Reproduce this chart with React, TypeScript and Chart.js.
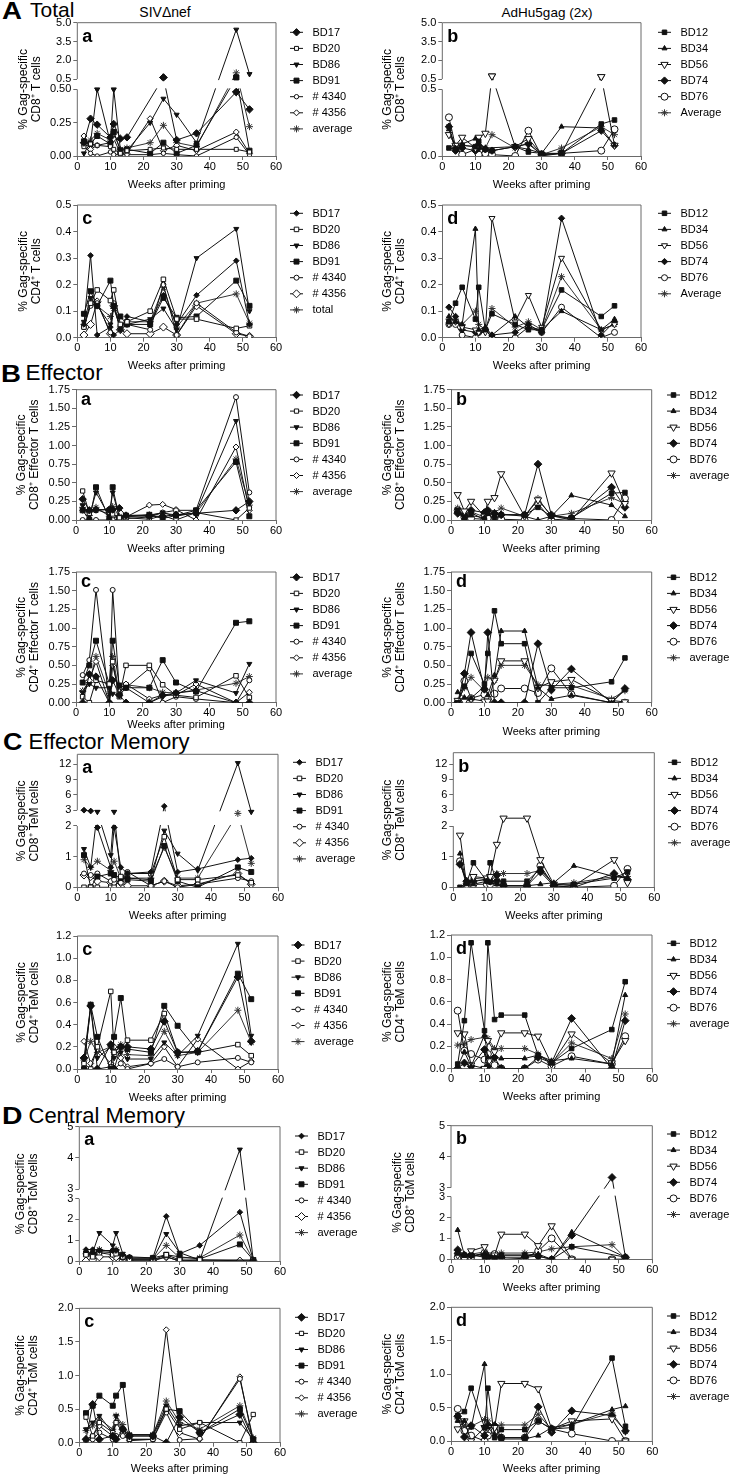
import React, { useEffect, useRef } from 'react';
import { Chart, registerables, LinearScale, PointElement } from 'chart.js';

Chart.register(...registerables);

const FONT = "Arial, 'Liberation Sans', Helvetica, sans-serif";
const INK = '#111';
const AXIS = '#6a6a6a';

// ---------------- data ----------------
const WEEKS = [2, 4, 6, 10, 11, 13, 15, 22, 26, 30, 36, 48, 52];

const SIV_ANIMALS = ['BD17', 'BD20', 'BD86', 'BD91', '# 4340', '# 4356', 'average'];
const SIV_ANIMALS_TOTAL = ['BD17', 'BD20', 'BD86', 'BD91', '# 4340', '# 4356', 'total'];
const AD_ANIMALS = ['BD12', 'BD34', 'BD56', 'BD74', 'BD76', 'average'];
const AD_ANIMALS_TOTAL = ['BD12', 'BD34', 'BD56', 'BD74', 'BD76', 'Average'];

// A a : SIVdnef, total CD8
const TOTAL_CD8_SIV = [
  [0.10, 0.28, 0.235, 0.14, 0.24, 0.13, 0.14, null, 0.63, 0.12, 0.17, 0.48, 0.35],
  [0.07, 0.09, 0.08, 0.07, 0.05, 0.02, 0.04, 0.05, 0.06, 0.05, 0.05, 0.05, 0.03],
  [0.02, 0.10, 0.50, 0.10, 0.50, 0.05, 0.04, 0.25, 0.43, 0.31, 0.10, 4.45, 0.90],
  [0.11, 0.09, 0.15, 0.09, 0.18, 0.04, 0.05, 0.02, 0.10, 0.02, 0.08, 0.63, 0.04],
  [0.08, 0.02, 0.00, 0.03, 0.01, 0.01, 0.01, 0.01, 0.02, 0.01, 0.00, 0.14, 0.01],
  [0.15, 0.05, 0.08, 0.10, 0.13, 0.02, 0.02, 0.28, 0.04, 0.08, 0.04, 0.18, 0.02],
  [0.10, 0.12, 0.17, 0.12, 0.18, 0.05, 0.06, 0.10, 0.23, 0.10, 0.07, 1.00, 0.22],
];
// A b : AdHu5gag, total CD8
const TOTAL_CD8_AD = [
  [0.06, 0.05, 0.08, 0.07, 0.11, 0.05, 0.04, 0.07, 0.03, 0.02, 0.02, 0.24, 0.27],
  [0.20, 0.06, 0.09, 0.13, 0.09, 0.06, null, 0.07, 0.05, 0.02, 0.22, 0.21, 0.08],
  [0.16, 0.08, 0.14, 0.06, 0.14, 0.17, 0.74, 0.07, 0.13, 0.01, 0.02, 0.69, 0.08],
  [0.22, 0.04, 0.06, 0.04, 0.06, 0.05, 0.04, 0.07, 0.09, 0.01, 0.02, 0.19, 0.08],
  [0.29, 0.07, 0.01, 0.05, 0.01, 0.02, 0.01, 0.00, 0.19, 0.00, 0.02, 0.04, 0.20],
  [0.22, 0.06, 0.08, 0.07, 0.08, 0.06, 0.16, 0.06, 0.10, 0.01, 0.06, 0.22, 0.16],
];
// A c : SIVdnef, total CD4
const TOTAL_CD4_SIV = [
  [0.05, 0.31, 0.01, 0.04, 0.01, 0.03, 0.08, 0.06, 0.16, 0.05, 0.16, 0.29, 0.05],
  [0.04, 0.13, 0.18, 0.14, 0.18, 0.05, 0.06, 0.10, 0.22, 0.07, 0.07, 0.035, 0.045],
  [0.06, 0.15, 0.12, 0.05, 0.12, 0.04, 0.05, 0.07, 0.11, 0.03, 0.30, 0.41, 0.10],
  [0.09, 0.175, 0.12, 0.215, 0.12, 0.08, 0.05, 0.05, 0.15, 0.075, 0.08, 0.215, 0.12],
  [0.04, 0.12, 0.13, 0.02, 0.13, 0.03, 0.05, 0.03, 0.20, 0.01, 0.13, 0.02, 0.005],
  [0.01, 0.05, 0.135, 0.015, 0.12, 0.03, 0.015, 0.015, 0.04, 0.01, 0.12, 0.015, 0.005],
  [0.05, 0.13, 0.12, 0.08, 0.11, 0.04, 0.06, 0.06, 0.19, 0.04, 0.13, 0.165, 0.055],
];
// A d : AdHu5gag, total CD4
const TOTAL_CD4_AD = [
  [0.06, 0.13, 0.19, 0.07, 0.19, 0.03, 0.09, 0.05, 0.03, 0.03, 0.18, 0.08, 0.12],
  [0.08, 0.06, 0.05, 0.41, 0.03, 0.04, 0.01, 0.08, 0.04, 0.03, 0.10, 0.03, 0.07],
  [0.05, 0.06, 0.04, 0.03, 0.02, 0.02, 0.45, 0.06, 0.16, 0.04, 0.30, 0.03, 0.05],
  [0.115, 0.08, 0.03, 0.02, 0.02, 0.03, 0.01, 0.02, 0.05, 0.02, 0.45, 0.01, 0.06],
  [0.05, 0.05, 0.01, 0.00, 0.02, 0.03, 0.00, 0.00, 0.04, 0.02, 0.115, 0.00, 0.02],
  [0.07, 0.07, 0.05, 0.10, 0.05, 0.03, 0.11, 0.04, 0.06, 0.03, 0.23, 0.03, 0.05],
];
// B a : SIVdnef, effector CD8
const EFF_CD8_SIV = [
  [0.28, 0.13, 0.14, 0.14, 0.14, 0.16, 0.06, 0.05, 0.05, 0.07, 0.09, 0.13, 0.25],
  [0.39, 0.09, 0.13, 0.14, 0.08, 0.03, 0.03, 0.01, 0.06, 0.00, 0.10, 0.00, 0.16],
  [0.20, 0.05, 0.37, 0.05, 0.37, 0.04, 0.05, 0.06, 0.10, 0.05, 0.10, 1.33, 0.22],
  [0.13, 0.00, 0.44, 0.01, 0.44, 0.03, 0.06, 0.07, 0.02, 0.06, 0.13, 0.78, 0.05],
  [0.00, 0.00, 0.00, 0.00, 0.00, 0.01, 0.02, 0.04, 0.10, 0.13, 0.13, 1.65, 0.37],
  [0.13, 0.12, 0.14, 0.08, 0.05, 0.02, 0.04, 0.20, 0.21, 0.14, 0.00, 0.98, 0.13],
  [0.17, 0.06, 0.17, 0.05, 0.18, 0.05, 0.04, 0.07, 0.09, 0.07, 0.09, 0.82, 0.20],
];
// B b : AdHu5gag, effector CD8
const EFF_CD8_AD = [
  [0.13, 0.00, 0.10, 0.00, 0.09, 0.02, 0.07, 0.07, 0.17, 0.05, 0.03, 0.36, 0.37],
  [0.10, 0.02, 0.06, 0.03, 0.09, 0.07, 0.08, 0.05, 0.00, 0.05, 0.33, 0.20, 0.05],
  [0.34, 0.12, 0.25, 0.05, 0.25, 0.30, 0.62, 0.05, 0.27, 0.06, 0.00, 0.63, 0.22],
  [0.09, 0.07, 0.13, 0.10, 0.13, 0.09, 0.07, 0.07, 0.75, 0.07, 0.02, 0.44, 0.17],
  [0.13, 0.04, 0.02, 0.01, 0.02, 0.01, 0.01, 0.00, 0.22, 0.00, 0.02, 0.00, 0.29],
  [0.16, 0.06, 0.11, 0.04, 0.12, 0.10, 0.16, 0.05, 0.29, 0.05, 0.09, 0.30, 0.22],
];
// B c : SIVdnef, effector CD4
const EFF_CD4_SIV = [
  [0.00, 0.38, 0.35, 0.00, 0.30, 0.10, 0.00, 0.00, 0.10, 0.13, 0.16, 0.00, 0.00],
  [0.08, 0.00, 0.30, 0.25, 0.55, 0.08, 0.50, 0.50, 0.24, 0.10, 0.07, 0.36, 0.07],
  [0.14, 0.25, 0.20, 0.20, 0.12, 0.10, 0.20, 0.00, 0.08, 0.13, 0.30, 0.13, 0.52],
  [0.27, 0.50, 0.83, 0.25, 0.83, 0.23, 0.20, 0.20, 0.57, 0.27, 0.15, 1.07, 1.09],
  [0.37, 0.57, 1.51, 0.00, 1.51, 0.15, 0.20, 0.46, 0.00, 0.08, 0.05, 0.00, 0.30],
  [0.15, 0.30, 0.55, 0.00, 0.50, 0.12, 0.25, 0.05, 0.10, 0.10, 0.25, 0.00, 0.14],
  [0.16, 0.27, 0.62, 0.12, 0.62, 0.13, 0.24, 0.20, 0.14, 0.13, 0.17, 0.26, 0.35],
];
// B d : AdHu5gag, effector CD4
const EFF_CD4_AD = [
  [0.00, 0.22, 0.66, 0.25, 0.66, 1.23, 0.79, 0.79, 0.00, 0.20, 0.20, 0.28, 0.60],
  [0.14, 0.07, 0.06, 0.22, 0.10, 0.37, 0.96, 0.96, 0.20, 0.05, 0.10, 0.00, 0.17],
  [0.03, 0.02, 0.05, 0.02, 0.02, 0.30, 0.56, 0.56, 0.20, 0.28, 0.31, 0.03, 0.01],
  [0.00, 0.39, 0.94, 0.18, 0.94, 0.00, 0.00, 0.00, 0.79, 0.17, 0.45, 0.00, 0.19],
  [0.00, 0.29, 0.06, 0.11, 0.05, 0.12, 0.19, 0.19, 0.13, 0.46, 0.11, 0.00, 0.00],
  [0.02, 0.20, 0.34, 0.16, 0.34, 0.30, 0.50, 0.50, 0.24, 0.23, 0.23, 0.05, 0.16],
];
// C a : SIVdnef, effector memory CD8
const TEM_CD8_SIV = [
  [3.0, 2.95, 1.95, 0.65, 1.95, 0.65, 0.45, 0.50, 3.8, 0.50, 0.60, 0.90, 0.95],
  [0.00, 0.00, 0.00, 0.00, 0.00, 0.35, 0.45, 0.45, 1.65, 0.25, 0.25, 0.40, 0.15],
  [1.25, 0.65, 2.9, 1.05, 2.9, 0.30, 0.30, 0.25, 1.85, 1.10, 0.55, 12.2, 2.9],
  [1.05, 0.00, 0.35, 0.45, 0.40, 0.30, 0.25, 0.20, 1.35, 0.20, 0.00, 0.65, 0.50],
  [0.45, 0.40, 0.45, 0.20, 0.25, 0.15, 0.50, 0.05, 0.20, 0.00, 0.10, 0.30, 0.20],
  [0.40, 0.35, 0.20, 0.15, 0.15, 0.15, 0.05, 0.05, 0.20, 0.05, 0.10, 0.45, 0.10],
  [0.90, 0.65, 0.85, 0.55, 0.85, 0.30, 0.30, 0.30, 1.30, 0.30, 0.30, 2.8, 0.78],
];
// C b : AdHu5gag, effector memory CD8
const TEM_CD8_AD = [
  [0.00, 0.15, 0.80, 0.20, 0.80, 0.20, 0.20, 0.20, 0.60, 0.10, 0.10, 0.30, 0.50],
  [1.10, 0.10, 0.10, 0.20, 0.15, 0.10, 0.05, 0.05, 0.10, 0.15, 0.70, 0.35, 0.30],
  [1.70, 0.05, 0.35, 0.30, 0.35, 1.40, 2.5, 2.5, 0.90, 0.10, 0.05, 0.90, 0.15],
  [0.75, 0.20, 0.20, 0.25, 0.20, 0.40, 0.05, 0.05, 0.50, 0.05, 0.00, 0.45, 0.25],
  [0.85, 0.05, 0.10, 0.10, 0.10, 0.15, 0.05, 0.05, 0.70, 0.05, 0.00, 0.05, 0.60],
  [0.85, 0.15, 0.30, 0.25, 0.30, 0.45, 0.45, 0.45, 0.55, 0.10, 0.15, 0.35, 0.35],
];
// C c : SIVdnef, effector memory CD4
const TEM_CD4_SIV = [
  [0.10, 0.57, 0.00, 0.22, 0.00, 0.20, 0.20, 0.18, 0.43, 0.15, 0.16, 0.83, 0.25],
  [0.05, 0.00, 0.20, 0.70, 0.15, 0.20, 0.26, 0.26, 0.50, 0.15, 0.15, 0.22, 0.12],
  [0.05, 0.55, 0.10, 0.20, 0.10, 0.15, 0.09, 0.09, 0.24, 0.12, 0.30, 1.13, 0.30],
  [0.00, 0.58, 0.29, 0.00, 0.29, 0.64, 0.18, 0.15, 0.57, 0.39, 0.16, 0.86, 0.63],
  [0.00, 0.00, 0.00, 0.02, 0.00, 0.05, 0.00, 0.05, 0.09, 0.02, 0.06, 0.10, 0.06],
  [0.25, 0.05, 0.18, 0.05, 0.20, 0.10, 0.02, 0.05, 0.20, 0.02, 0.27, 0.00, 0.07],
  [0.08, 0.25, 0.15, 0.20, 0.15, 0.22, 0.13, 0.12, 0.34, 0.12, 0.15, 0.53, 0.24],
];
// C d : AdHu5gag, effector memory CD4
const TEM_CD4_AD = [
  [0.04, 0.43, 1.13, 0.34, 1.13, 0.44, 0.48, 0.48, 0.12, 0.05, 0.18, 0.35, 0.78],
  [0.02, 0.15, 0.02, 0.30, 0.10, 0.10, 0.09, 0.09, 0.12, 0.07, 0.09, 0.04, 0.66],
  [0.32, 0.31, 0.03, 0.00, 0.25, 0.15, 0.32, 0.32, 0.29, 0.04, 0.31, 0.05, 0.25],
  [0.00, 0.05, 0.02, 0.17, 0.02, 0.10, 0.00, 0.00, 0.10, 0.05, 0.45, 0.00, 0.43],
  [0.52, 0.16, 0.13, 0.08, 0.13, 0.03, 0.00, 0.00, 0.08, 0.02, 0.11, 0.04, 0.29],
  [0.21, 0.22, 0.26, 0.28, 0.27, 0.18, 0.18, 0.18, 0.13, 0.05, 0.23, 0.09, 0.49],
];
// D a : SIVdnef, central memory CD8
const TCM_CD8_SIV = [
  [0.55, 0.55, 0.50, 0.50, 0.50, 0.30, 0.20, 0.15, 2.15, 0.35, 0.75, 2.35, 0.05],
  [0.30, 0.20, 0.40, 0.30, 0.35, 0.20, 0.05, 0.05, 0.30, 0.05, 0.05, null, 0.05],
  [0.40, 0.40, 1.35, 0.75, 1.35, 0.35, 0.10, 0.10, 1.30, 0.40, 0.05, 4.27, 0.05],
  [0.35, 0.30, 0.45, 0.40, 0.45, 0.20, 0.15, 0.15, 0.30, 0.20, 0.10, 0.80, 0.05],
  [0.40, 0.35, 0.50, 0.50, 0.50, 0.15, 0.05, 0.05, 0.20, 0.00, 0.05, null, 0.00],
  [0.00, 0.05, 0.20, 0.20, 0.20, 0.05, 0.00, 0.00, 0.20, 0.00, 0.00, 0.00, 0.00],
  [0.35, 0.30, 0.55, 0.45, 0.55, 0.20, 0.10, 0.10, 0.75, 0.15, 0.15, 1.25, 0.05],
];
// D b : AdHu5gag, central memory CD8
const TCM_CD8_AD = [
  [0.30, 0.20, 0.20, 0.10, 0.10, 0.05, 0.20, 0.20, 0.15, 0.00, 0.60, null, 0.10],
  [1.40, 0.20, 0.15, 0.30, 0.20, 0.10, 0.20, 0.20, 0.25, 0.00, 1.30, null, 0.10],
  [0.20, 0.00, 0.40, 0.60, 0.20, 0.20, 1.20, 1.20, 0.65, 1.60, 0.00, 0.00, 0.00],
  [0.45, 0.20, 0.20, 0.20, 0.10, 0.10, 0.10, 0.10, 0.15, 0.00, 1.15, 3.33, 0.10],
  [0.10, 0.10, 0.10, 0.30, 0.05, 0.25, 0.00, 0.05, 0.40, 1.00, 0.00, 0.00, 0.00],
  [0.30, 0.15, 0.25, 0.35, 0.15, 0.15, 0.30, 0.30, 0.35, 0.50, 0.60, 0.70, 0.05],
];
// D c : SIVdnef, central memory CD4
const TCM_CD4_SIV = [
  [0.05, 0.57, 0.05, 0.10, 0.05, 0.20, 0.10, 0.10, 0.00, 0.38, 0.15, 0.42, 0.00],
  [0.38, 0.10, 0.30, 0.15, 0.30, 0.20, 0.05, 0.05, 0.50, 0.20, 0.30, 0.00, 0.42],
  [0.20, 0.30, 0.40, 0.15, 0.40, 0.20, 0.12, 0.12, 0.55, 0.25, 0.30, 0.30, 0.05],
  [0.44, 0.55, 0.70, 0.55, 0.70, 0.86, 0.10, 0.10, 0.50, 0.47, 0.15, 0.50, 0.05],
  [0.03, 0.05, 0.15, 0.05, 0.10, 0.10, 0.05, 0.05, 0.45, 0.04, 0.06, 0.95, 0.05],
  [0.05, 0.10, 0.25, 0.10, 0.30, 0.15, 0.03, 0.05, 1.68, 0.15, 0.05, 0.98, 0.00],
  [0.18, 0.25, 0.35, 0.20, 0.40, 0.27, 0.12, 0.12, 0.62, 0.30, 0.20, 0.55, 0.07],
];
// D d : AdHu5gag, central memory CD4
const TCM_CD4_AD = [
  [0.38, 0.44, 0.79, 0.20, 0.79, 0.05, 0.17, 0.17, 0.30, 0.18, 0.20, 1.24, 0.22],
  [0.30, 0.30, 0.20, 1.15, 0.20, 0.10, 0.03, 0.03, 0.08, 0.20, 0.25, 0.47, 0.52],
  [0.18, 0.30, 0.00, 0.20, 0.20, 0.20, 0.86, 0.86, 0.78, 0.18, 0.30, 0.33, 0.00],
  [0.37, 0.06, 0.23, 0.08, 0.23, 0.23, 0.05, 0.05, 0.51, 0.13, 0.45, 0.38, 0.15],
  [0.48, 0.15, 0.08, 0.00, 0.08, 0.15, 0.05, 0.05, 0.30, 0.18, 0.11, 0.00, 0.00],
  [0.33, 0.22, 0.22, 0.32, 0.30, 0.20, 0.24, 0.24, 0.40, 0.17, 0.25, 0.42, 0.14],
];

// tick labels of the broken axes
const TICKS_TOTAL_CD8_SIV = [
  { v: 0, l: '0.00', s: 'lo' }, { v: 0.25, l: '0.25', s: 'lo' }, { v: 0.5, l: '0.50', s: 'lo' },
  { v: 0.5, l: '0.5', s: 'hi' }, { v: 2, l: '2.0', s: 'hi' }, { v: 3.5, l: '3.5', s: 'hi' }, { v: 5, l: '5.0', s: 'hi' },
];
const TICKS_TOTAL_CD8_AD = [
  { v: 0, l: '0.0', s: 'lo' }, { v: 0.5, l: '0.5', s: 'lo' },
  { v: 0.5, l: '0.5', s: 'hi' }, { v: 2, l: '2.0', s: 'hi' }, { v: 3.5, l: '3.5', s: 'hi' }, { v: 5, l: '5.0', s: 'hi' },
];
const TICKS_TEM_CD8 = [
  { v: 0, l: '0', s: 'lo' }, { v: 1, l: '1', s: 'lo' }, { v: 2, l: '2', s: 'lo' },
  { v: 3, l: '3', s: 'hi' }, { v: 6, l: '6', s: 'hi' }, { v: 9, l: '9', s: 'hi' }, { v: 12, l: '12', s: 'hi' },
];
const TICKS_TCM_CD8 = [
  { v: 0, l: '0', s: 'lo' }, { v: 1, l: '1', s: 'lo' }, { v: 2, l: '2', s: 'lo' }, { v: 3, l: '3', s: 'lo' },
  { v: 3, l: '3', s: 'hi' }, { v: 4, l: '4', s: 'hi' }, { v: 5, l: '5', s: 'hi' },
];

// marker styles
const SIV_MARKERS = [
  { ps: 'rectRot', fill: true, rot: 0 },
  { ps: 'rect', fill: false, rot: 0 },
  { ps: 'triangle', fill: true, rot: 180 },
  { ps: 'rect', fill: true, rot: 0 },
  { ps: 'circle', fill: false, rot: 0 },
  { ps: 'rectRot', fill: false, rot: 0 },
  { ps: 'star', fill: false, rot: 0 },
];
const AD_MARKERS = [
  { ps: 'rect', fill: true, rot: 0 },
  { ps: 'triangle', fill: true, rot: 0 },
  { ps: 'triangle', fill: false, rot: 180 },
  { ps: 'rectRot', fill: true, rot: 0 },
  { ps: 'circle', fill: false, rot: 0 },
  { ps: 'star', fill: false, rot: 0 },
];

// ---------------- broken scale ----------------
const BRK = new WeakMap();

class BrokenScale extends LinearScale {
  static id = 'broken';
  static defaults = {};
  brk() {
    return BRK.get((this as any).chart.canvas);
  }
  buildTicks() {
    const c = this.brk();
    return c.ticks.map((t) => ({ value: t.v, seg: t.s, lbl: t.l }));
  }
  frac(v, seg?) {
    const c = this.brk();
    const lo = c.lowFrac;
    const hi = c.lowFrac + c.gapFrac;
    const mn = (this as any).min;
    const mx = (this as any).max;
    if (seg === 'lo' || (seg === undefined && v <= c.b1)) return ((v - mn) / (c.b1 - mn)) * lo;
    if (seg === 'hi' || v >= c.b2) return hi + ((v - c.b2) / (mx - c.b2)) * (1 - hi);
    return lo + ((v - c.b1) / (c.b2 - c.b1)) * (hi - lo);
  }
  getPixelForValue(v) {
    if (v === null || v === undefined || isNaN(v)) return NaN;
    return (this as any).getPixelForDecimal(this.frac(+v));
  }
  getPixelForTick(i) {
    const t = (this as any).ticks[i];
    if (!t) return null;
    return (this as any).getPixelForDecimal(this.frac(t.value, t.seg));
  }
  getValueForPixel(p) {
    const c = this.brk();
    const d = (this as any).getDecimalForPixel(p);
    const hi = c.lowFrac + c.gapFrac;
    if (d <= c.lowFrac) return (d / c.lowFrac) * c.b1;
    if (d >= hi) return c.b2 + ((d - hi) / (1 - hi)) * ((this as any).max - c.b2);
    return c.b1;
  }
}
Chart.register(BrokenScale as any);

// ---------------- panels ----------------
const CD8_TOTAL = ['% Gag-specific', 'CD8\u207A T cells'];
const CD4_TOTAL = ['% Gag-specific', 'CD4\u207A T cells'];
const CD8_EFF = ['% Gag-specific', 'CD8\u207A Effector T cells'];
const CD4_EFF = ['% Gag-specific', 'CD4\u207A Effector T cells'];
const CD8_TEM = ['% Gag-specific', 'CD8\u207A TeM cells'];
const CD4_TEM = ['% Gag-specific', 'CD4\u207A TeM cells'];
const CD8_TCM = ['% Gag-specific', 'CD8\u207A TcM cells'];
const CD4_TCM = ['% Gag-specific', 'CD4\u207A TcM cells'];

const AD_R = [3.2, 2.9, 4.2, 3.9, 3.5, 3.5];

const PANELS = [
  { letter: 'a', col: 0, L: 77.3, R: 276, T: 22.7, B: 156, wOff: 29, titleX: 23.3, legX: 290, legY: 32.3, labDy: 19,
    yTitle: CD8_TOTAL, names: SIV_ANIMALS, series: TOTAL_CD8_SIV, markers: SIV_MARKERS, radii: [3.7, 2.8, 2.9, 3.5, 2.2, 3, 3.5],
    y: { kind: 'brk', max: 5, b1: 0.5, b2: 0.5, lowFrac: 0.5, gapFrac: 0.077, ticks: TICKS_TOTAL_CD8_SIV, clip: true } },
  { letter: 'c', col: 0, L: 77.3, R: 276, T: 205, B: 337.7, wOff: 28.3, titleX: 23.3, legX: 290, legY: 213.3, labDy: 19,
    yTitle: CD4_TOTAL, names: SIV_ANIMALS_TOTAL, series: TOTAL_CD4_SIV, markers: SIV_MARKERS, radii: [2.8, 3.2, 2.9, 3.5, 2.5, 4, 3.5],
    y: { kind: 'lin', max: 0.5, step: 0.1, dec: 1 } },
  { letter: 'b', col: 1, L: 442.3, R: 641, T: 22.7, B: 156, wOff: 29, titleX: 387.7, legX: 658, legY: 32.3, labDy: 19,
    yTitle: CD8_TOTAL, names: AD_ANIMALS_TOTAL, series: TOTAL_CD8_AD, markers: AD_MARKERS, radii: [3.2, 2.9, 4.2, 3.7, 3.5, 3.5],
    y: { kind: 'brk', max: 5, b1: 0.5, b2: 0.5, lowFrac: 0.5, gapFrac: 0.077, ticks: TICKS_TOTAL_CD8_AD, clip: true } },
  { letter: 'd', col: 1, L: 442.3, R: 641, T: 205, B: 337.7, wOff: 28.3, titleX: 387.7, legX: 658, legY: 213.3, labDy: 19,
    yTitle: CD4_TOTAL, names: AD_ANIMALS_TOTAL, series: TOTAL_CD4_AD, markers: AD_MARKERS, radii: [3.2, 2.9, 3.5, 3.2, 3, 3.5],
    y: { kind: 'lin', max: 0.5, step: 0.1, dec: 1 } },

  { letter: 'a', col: 0, L: 76, R: 276, T: 389.7, B: 520, wOff: 29, titleX: 21.7, legX: 290, legY: 395, labDy: 15.3,
    yTitle: CD8_EFF, names: SIV_ANIMALS, series: EFF_CD8_SIV, markers: SIV_MARKERS, radii: [3.7, 3, 2.9, 3.5, 2.5, 3, 3.5],
    y: { kind: 'lin', max: 1.75, step: 0.25, dec: 2 } },
  { letter: 'c', col: 0, L: 76, R: 276, T: 572, B: 702.7, wOff: 22.3, titleX: 21.7, legX: 290, legY: 577.3, labDy: 15.3,
    yTitle: CD4_EFF, names: SIV_ANIMALS, series: EFF_CD4_SIV, markers: SIV_MARKERS, radii: [3.7, 3.2, 2.9, 3.5, 2.5, 3, 3.5],
    y: { kind: 'lin', max: 1.75, step: 0.25, dec: 2 } },
  { letter: 'b', col: 1, L: 451, R: 651.7, T: 389.7, B: 520, wOff: 29.3, titleX: 387.7, legX: 667, legY: 395, labDy: 15.3,
    yTitle: CD8_EFF, names: AD_ANIMALS, series: EFF_CD8_AD, markers: AD_MARKERS, radii: AD_R,
    y: { kind: 'lin', max: 1.75, step: 0.25, dec: 2 } },
  { letter: 'd', col: 1, L: 451, R: 651.7, T: 572, B: 702.7, wOff: 29, titleX: 387.7, legX: 667, legY: 577.3, labDy: 15.3,
    yTitle: CD4_EFF, names: AD_ANIMALS, series: EFF_CD4_AD, markers: AD_MARKERS, radii: AD_R,
    y: { kind: 'lin', max: 1.75, step: 0.25, dec: 2 } },

  { letter: 'a', col: 0, L: 77.3, R: 278, T: 754.3, B: 887.3, wOff: 28.7, titleX: 21.7, legX: 293, legY: 762.3, labDy: 19,
    yTitle: CD8_TEM, names: SIV_ANIMALS, series: TEM_CD8_SIV, markers: SIV_MARKERS, radii: [2.8, 3.2, 2.9, 3.5, 2.5, 4, 3.5],
    y: { kind: 'brk', max: 13.9, b1: 2, b2: 3, lowFrac: 0.461, gapFrac: 0.118, ticks: TICKS_TEM_CD8, clip: true } },
  { letter: 'c', col: 0, L: 77.3, R: 278, T: 936, B: 1069, wOff: 29, titleX: 21.7, legX: 291.5, legY: 945, labDy: 19,
    yTitle: CD4_TEM, names: SIV_ANIMALS, series: TEM_CD4_SIV, markers: SIV_MARKERS, radii: [3.9, 3.2, 2.9, 3.5, 2.5, 3, 3.5],
    y: { kind: 'lin', max: 1.2, step: 0.2, dec: 1 } },
  { letter: 'b', col: 1, L: 453.3, R: 654.3, T: 752.7, B: 887.3, wOff: 28.7, titleX: 387.7, legX: 668, legY: 762.3, labDy: 19,
    yTitle: CD8_TEM, names: AD_ANIMALS, series: TEM_CD8_AD, markers: AD_MARKERS, radii: AD_R,
    y: { kind: 'brk', max: 14.2, b1: 2, b2: 3, lowFrac: 0.455, gapFrac: 0.117, ticks: TICKS_TEM_CD8, clip: false } },
  { letter: 'd', col: 1, L: 451, R: 652, T: 935, B: 1068.5, wOff: 28.4, titleX: 387.7, legX: 667, legY: 943.3, labDy: 19,
    yTitle: CD4_TEM, names: AD_ANIMALS, series: TEM_CD4_AD, markers: AD_MARKERS, radii: AD_R,
    y: { kind: 'lin', max: 1.2, step: 0.2, dec: 1 } },

  { letter: 'a', col: 0, L: 79.3, R: 280, T: 1126.7, B: 1261, wOff: 28.3, titleX: 20.7, legX: 295, legY: 1136, labDy: 18.3,
    yTitle: CD8_TCM, names: SIV_ANIMALS, series: TCM_CD8_SIV, markers: SIV_MARKERS, radii: [2.8, 3.2, 2.9, 3.5, 2.5, 4, 3.5],
    y: { kind: 'brk', max: 5, b1: 3, b2: 3, lowFrac: 0.464, gapFrac: 0.07, ticks: TICKS_TCM_CD8, clip: true } },
  { letter: 'c', col: 0, L: 79.3, R: 280, T: 1308.3, B: 1442.7, wOff: 26.6, titleX: 20.7, legX: 295, legY: 1317.3, labDy: 19,
    yTitle: CD4_TCM, names: SIV_ANIMALS, series: TCM_CD4_SIV, markers: SIV_MARKERS, radii: [3.9, 3, 2.9, 3.5, 2.5, 3, 3.5],
    y: { kind: 'lin', max: 2, step: 0.5, dec: 1 } },
  { letter: 'b', col: 1, L: 451, R: 652.3, T: 1125.7, B: 1259.3, wOff: 28.4, titleX: 397.3, legX: 667, legY: 1134, labDy: 18.3,
    yTitle: CD8_TCM, names: AD_ANIMALS, series: TCM_CD8_AD, markers: AD_MARKERS, radii: AD_R,
    y: { kind: 'brk', max: 5, b1: 3, b2: 3, lowFrac: 0.469, gapFrac: 0.067, ticks: TICKS_TCM_CD8, clip: true } },
  { letter: 'd', col: 1, L: 451, R: 652.3, T: 1307.3, B: 1441, wOff: 28.3, titleX: 387.7, legX: 667, legY: 1316, labDy: 19,
    yTitle: CD4_TCM, names: AD_ANIMALS, series: TCM_CD4_AD, markers: AD_MARKERS, radii: AD_R,
    y: { kind: 'lin', max: 2, step: 0.5, dec: 1 } },
];

function markerOpts(m, r) {
  return {
    pointStyle: m.ps,
    rotation: m.rot || 0,
    radius: r,
    borderColor: INK,
    backgroundColor: m.fill ? INK : '#ffffff',
    borderWidth: 1,
  };
}

function Panel({ d }) {
  const ref = useRef(null);
  const cx = d.col ? 365 : 0;
  const cy = Math.floor(d.T) - 14;
  const ch = Math.ceil(d.B + d.wOff + 8) - cy;
  const cw = 365;

  useEffect(() => {
    const canvas = ref.current;
    if (!canvas) return;
    if (d.y.kind === 'brk') BRK.set(canvas, d.y);

    const padTop = d.T - cy;
    const padRight = cx + cw - d.R;
    const yW = d.L - cx;
    const xH = cy + ch - d.B;
    const xTitlePadB = Math.max(0, cy + ch - 7 - (d.B + d.wOff));
    const yLH = 13.2;
    const yTitlePadT = Math.max(0, d.titleX - cx - yLH / 2);

    const datasets = d.series.map((vals, i) => {
      const m = d.markers[i];
      const isAvg = i === d.series.length - 1;
      return {
        label: d.names[i],
        data: WEEKS.map((w, j) => ({ x: w, y: vals[j] })),
        borderColor: isAvg ? '#333' : INK,
        borderWidth: 1,
        pointStyle: m.ps,
        pointRotation: m.rot || 0,
        pointRadius: d.radii[i],
        pointBackgroundColor: m.fill ? INK : '#ffffff',
        pointBorderColor: isAvg ? '#333' : INK,
        pointBorderWidth: 1,
        spanGaps: true,
        tension: 0,
        fill: false,
      };
    });

    const tickFont = { family: FONT, size: 11 };
    const grid = { display: true, drawOnChartArea: false, drawTicks: true, tickLength: 4, color: AXIS, tickColor: AXIS, lineWidth: 1 };

    let yScale;
    if (d.y.kind === 'brk') {
      yScale = {
        type: 'broken',
        min: 0,
        max: d.y.max,
        ticks: { color: '#000', font: tickFont, padding: 2, autoSkip: false, callback: (v, i, ticks) => ticks[i].lbl },
        grid,
        border: { display: false },
      };
    } else {
      const dec = d.y.dec;
      yScale = {
        type: 'linear',
        min: 0,
        max: d.y.max,
        ticks: { color: '#000', font: tickFont, padding: 2, autoSkip: false, stepSize: d.y.step, callback: (v) => Number(v).toFixed(dec) },
        grid,
        border: { display: true, color: AXIS, width: 1 },
      };
    }
    yScale.title = {
      display: true,
      text: d.yTitle,
      color: '#000',
      font: { family: FONT, size: 12, lineHeight: 1.1 },
      padding: { top: yTitlePadT, bottom: 0 },
    };
    yScale.afterFit = (s) => { s.width = yW; };

    const deco = {
      id: 'deco',
      afterDatasetsDraw(chart) {
        if (d.y.kind !== 'brk' || !d.y.clip) return;
        const ctx = chart.ctx;
        const a = chart.chartArea;
        const ys = chart.scales.y;
        const pLo = ys.getPixelForDecimal(d.y.lowFrac);
        const pHi = ys.getPixelForDecimal(d.y.lowFrac + d.y.gapFrac);
        ctx.save();
        ctx.fillStyle = '#ffffff';
        ctx.fillRect(a.left + 1, pHi + 1, a.right - a.left - 2, pLo - pHi - 2);
        ctx.restore();
        const metas = chart.getSortedVisibleDatasetMetas();
        for (let k = metas.length - 1; k >= 0; k--) {
          metas[k].data.forEach((el) => {
            const r = (el.options && el.options.radius) || 3;
            if (!el.skip && el.y > pHi - r && el.y < pLo + r) el.draw(ctx, a);
          });
        }
      },
      afterDraw(chart) {
        const ctx = chart.ctx;
        const a = chart.chartArea;
        ctx.save();
        ctx.strokeStyle = AXIS;
        ctx.lineWidth = 1;
        // frame: top and right
        ctx.beginPath();
        ctx.moveTo(a.left, a.top);
        ctx.lineTo(a.right, a.top);
        ctx.lineTo(a.right, a.bottom);
        ctx.stroke();
        // broken y axis line
        if (d.y.kind === 'brk') {
          const ys = chart.scales.y;
          const pLo = ys.getPixelForDecimal(d.y.lowFrac);
          const pHi = ys.getPixelForDecimal(d.y.lowFrac + d.y.gapFrac);
          ctx.beginPath();
          ctx.moveTo(a.left, a.bottom);
          ctx.lineTo(a.left, pLo);
          ctx.moveTo(a.left, pHi);
          ctx.lineTo(a.left, a.top);
          ctx.stroke();
        }
        // panel letter
        ctx.fillStyle = '#000';
        ctx.font = `bold 18px ${FONT}`;
        ctx.textBaseline = 'alphabetic';
        ctx.textAlign = 'left';
        ctx.fillText(d.letter, a.left + 5, a.top + d.labDy);
        // legend
        ctx.font = `11px ${FONT}`;
        ctx.textBaseline = 'middle';
        d.names.forEach((n, i) => {
          const y = d.legY - cy + i * 16.1;
          const x0 = d.legX - cx;
          const isAvg = i === d.names.length - 1;
          ctx.strokeStyle = isAvg ? '#333' : INK;
          ctx.lineWidth = 1;
          ctx.beginPath();
          ctx.moveTo(x0, y);
          ctx.lineTo(x0 + 13, y);
          ctx.stroke();
          const opts = markerOpts(d.markers[i], d.radii[i]);
          if (isAvg) opts.borderColor = '#333';
          const pe = new PointElement({ x: x0 + 6.5, y, options: opts } as any);
          pe.draw(ctx);
          ctx.fillStyle = '#000';
          ctx.fillText(n, x0 + 22.5, y + 0.5);
        });
        ctx.restore();
      },
    };

    const chart = new Chart(canvas, {
      type: 'line',
      data: { datasets },
      options: {
        animation: false,
        responsive: false,
        devicePixelRatio: 1,
        events: [],
        layout: { padding: { top: padTop, right: padRight, bottom: 0, left: 0 } },
        plugins: { legend: { display: false }, tooltip: { enabled: false } },
        scales: {
          x: {
            type: 'linear',
            min: 0,
            max: 60,
            ticks: { stepSize: 10, color: '#000', font: tickFont, padding: 0, maxRotation: 0, autoSkip: false },
            grid,
            border: { display: true, color: AXIS, width: 1 },
            title: {
              display: true,
              text: 'Weeks after priming',
              color: '#000',
              font: { family: FONT, size: 11, lineHeight: 14 / 11 },
              padding: { top: 0, bottom: xTitlePadB },
            },
            afterFit: (s) => { s.height = xH; },
          },
          y: yScale,
        },
      },
      plugins: [deco],
    } as any);
    return () => chart.destroy();
  }, []);

  return (
    <canvas
      ref={ref}
      width={cw}
      height={ch}
      style={{ position: 'absolute', left: cx, top: cy, width: cw, height: ch }}
    />
  );
}

function Txt({ x, y, size, bold = false, center = false, sx = 1, children }) {
  const top = y - 0.8465 * size;
  const style: any = {
    position: 'absolute',
    left: x,
    top,
    fontSize: size,
    lineHeight: size + 'px',
    fontWeight: bold ? 700 : 400,
    fontFamily: FONT,
    whiteSpace: 'pre',
    color: '#000',
    transformOrigin: 'left center',
  };
  if (center) style.transform = 'translateX(-50%)';
  else if (sx !== 1) style.transform = `scaleX(${sx})`;
  return <div style={style}>{children}</div>;
}

export default function App() {
  return (
    <div style={{ position: 'absolute', left: 0, top: 0, width: 730, height: 1477, background: '#fff', overflow: 'hidden' }}>
      <Txt x={2} y={19} size={23} bold sx={1.2}>A</Txt>
      <Txt x={30} y={17} size={21}>Total</Txt>
      <Txt x={165} y={17} size={14} center>SIV{'\u0394'}nef</Txt>
      <Txt x={547} y={17} size={13.5} center>AdHu5gag (2x)</Txt>

      <Txt x={0.5} y={382} size={24} bold sx={1.15}>B</Txt>
      <Txt x={25.5} y={381.5} size={22.5}>Effector</Txt>

      <Txt x={2.5} y={750.5} size={24} bold sx={1.12}>C</Txt>
      <Txt x={28.5} y={750} size={22}>Effector Memory</Txt>

      <Txt x={2} y={1124.3} size={24} bold sx={1.18}>D</Txt>
      <Txt x={28.5} y={1124} size={22}>Central Memory</Txt>

      {PANELS.map((d, i) => (
        <Panel key={i} d={d} />
      ))}
    </div>
  );
}
